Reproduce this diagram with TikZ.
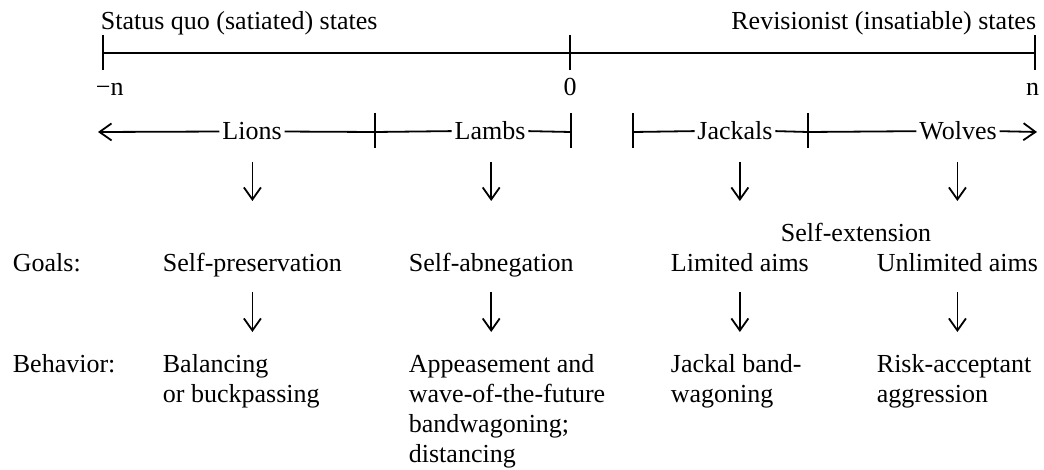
\documentclass[tikz,border=0pt]{standalone}
\usepackage{fontspec}
\setmainfont{Liberation Serif}
\usetikzlibrary{arrows.meta,positioning}

\begin{document}
\begin{tikzpicture}[
    x=0.5pt, y=-0.5pt,
    line width=0.9pt,
    every node/.style={font=\fontsize{13}{15}\selectfont, inner sep=1pt},
    txt/.style={anchor=base west, align=left},
    block/.style={anchor=north west, align=left},
    kind/.style={anchor=base},
    arrow/.style={-{Straight Barb[length=6pt,width=8.5pt]}},
    rowone/.style={arrow, shorten <=11pt, shorten >=35pt},
    rowtwo/.style={arrow, shorten <=10.5pt, shorten >=10pt}
  ]
    \useasboundingbox (0,0) rectangle (1044,470);

    % scale
    \node[anchor=base west] (satiated) at (98,30) {Status quo (satiated) states};
    \node[anchor=base east] (insatiable) at (1039,30) {Revisionist (insatiable) states};
    \coordinate (neg) at (103,53);
    \coordinate (zero) at (570,53);
    \coordinate (pos) at (1035,53);
    \draw (neg) -- (zero) -- (pos);
    \foreach \c in {neg,zero,pos}
      \draw ([yshift=9pt]\c) -- ([yshift=-8.5pt]\c);
    \node[anchor=base west] (minusn) at (93,96) {−n};
    \node[anchor=base] (nought) at (570,96) {0};
    \node[anchor=base east] (plusn) at (1042,96) {n};

    % ranges
    \node[kind] (lions) at (252,140) {Lions};
    \node[kind] (lambs) at (490,140) {Lambs};
    \node[kind] (jackals) at (735,140) {Jackals};
    \node[kind] (wolves) at (958,140) {Wolves};
    \coordinate (lend) at (98,132);
    \coordinate (ta) at (375,132);
    \coordinate (tb) at (571,132);
    \coordinate (tc) at (633,132);
    \coordinate (td) at (808,132);
    \coordinate (rend) at (1037,132);
    \draw[arrow] (lions.west) -- (lend);
    \draw (lions.east) -- (ta) -- (lambs.west);
    \draw (lambs.east) -- (tb);
    \draw (tc) -- (jackals.west);
    \draw (jackals.east) -- (td) -- (wolves.west);
    \draw[arrow] (wolves.east) -- (rend);
    \foreach \c in {ta,tb,tc,td}
      \draw ([yshift=9.5pt]\c) -- ([yshift=-8pt]\c);

    % goals
    \node[txt] (goals) at (10,271) {Goals:};
    \node[txt] (pres) at (160,271) {Self-preservation};
    \node[txt] (abneg) at (406,271) {Self-abnegation};
    \node[txt] (limited) at (668,271) {Limited aims};
    \node[txt] (unlimited) at (874,271) {Unlimited aims};
    \node[kind] (extension) at (856,242) {Self-extension};

    % behavior
    \node[txt] (behavior) at (10,372) {Behavior:};
    \node[block] (balance) at (160,352) {Balancing\\or buckpassing};
    \node[block] (appease) at (406,352) {Appeasement and\\wave-of-the-future\\bandwagoning;\\distancing};
    \node[block] (jackalbw) at (668,352) {Jackal band-\\wagoning};
    \node[block] (risk) at (874,352) {Risk-acceptant\\aggression};

    \foreach \a/\g in {lions/pres, lambs/abneg, jackals/limited, wolves/unlimited}
      \draw[rowone] (\g.base |- \a.base) -- (\g.base);
    \foreach \g/\b in {pres/balance, abneg/appease, limited/jackalbw, unlimited/risk}
      \draw[rowtwo] (\g.base) -- (\g.base |- \b.north);
\end{tikzpicture}
\end{document}
